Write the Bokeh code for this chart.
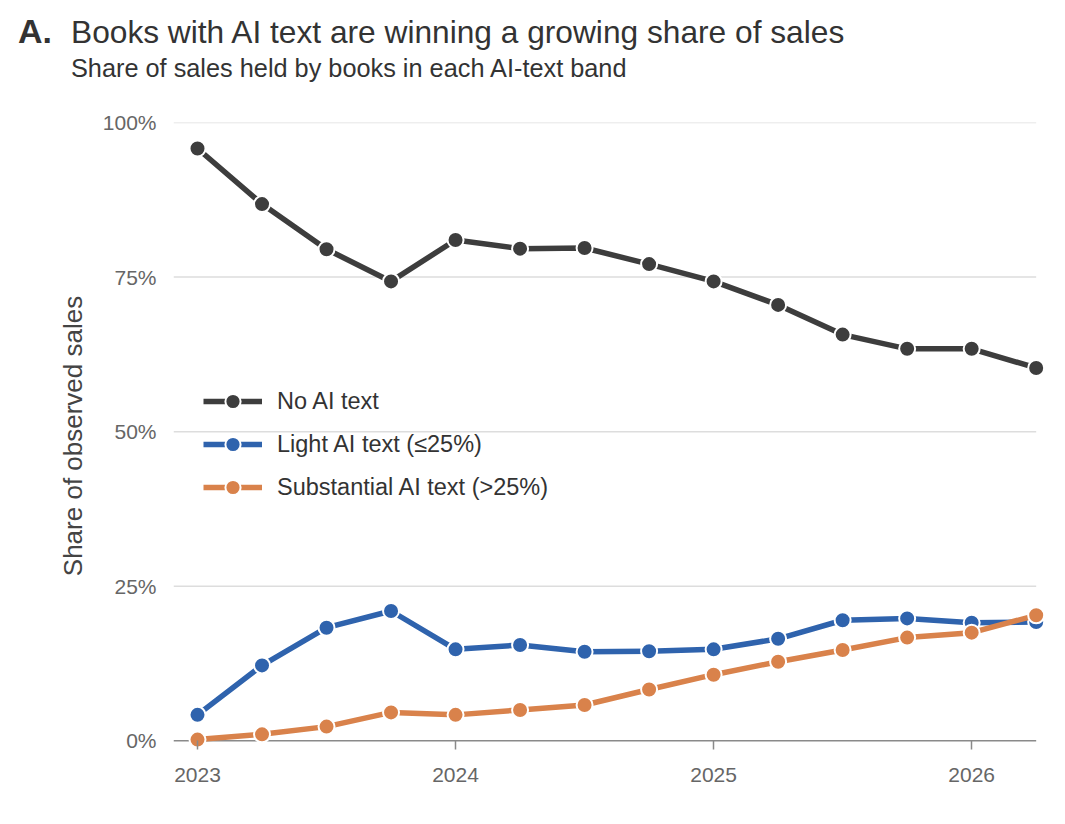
from bokeh.plotting import figure
from bokeh.models import Range1d, FixedTicker, Legend, LegendItem, Div
from bokeh.layouts import column
from bokeh.embed import file_html
from bokeh.resources import INLINE

# ---- data ----
quarters = [2023.0, 2023.25, 2023.5, 2023.75, 2024.0, 2024.25, 2024.5, 2024.75,
            2025.0, 2025.25, 2025.5, 2025.75, 2026.0, 2026.25]
no_ai = [95.8, 86.8, 79.5, 74.3, 81.0, 79.6, 79.7, 77.1, 74.3, 70.5, 65.7, 63.4, 63.4, 60.3]
light_ai = [4.2, 12.2, 18.3, 21.0, 14.8, 15.5, 14.4, 14.5, 14.8, 16.5, 19.5, 19.8, 19.1, 19.2]
substantial_ai = [0.2, 1.05, 2.3, 4.6, 4.2, 5.0, 5.8, 8.3, 10.7, 12.8, 14.7, 16.7, 17.5, 20.3]

series_names = ["No AI text", "Light AI text (\u226425%)", "Substantial AI text (>25%)"]
series_colors = ["#3d3d3d", "#2f63ad", "#d9824b"]

x_ticks = [2023, 2024, 2025, 2026]
x_tick_labels = ["2023", "2024", "2025", "2026"]
y_ticks = [0, 25, 50, 75, 100]
y_tick_labels = ["0%", "25%", "50%", "75%", "100%"]

title_tag = "A."
title_text = "Books with AI text are winning a growing share of sales"
subtitle_text = "Share of sales held by books in each AI-text band"
y_label = "Share of observed sales"

FONT = "Liberation Sans"

header = Div(
    width=1049, height=91,
    text=(
        f'<div style="position:relative;width:1049px;height:91px;font-family:\'{FONT}\';color:#333333;">'
        f'<div style="position:absolute;left:13px;top:9px;font-size:34px;font-weight:bold;line-height:1;white-space:nowrap;">{title_tag}</div>'
        f'<div style="position:absolute;left:66px;top:12px;font-size:31.7px;line-height:1;white-space:nowrap;">{title_text}</div>'
        f'<div style="position:absolute;left:66px;top:51px;font-size:25.3px;line-height:1;white-space:nowrap;">{subtitle_text}</div>'
        '</div>'
    ),
)

x_start, x_end = 2022.907, 2026.29
p = figure(width=1049, height=714, output_backend="svg", toolbar_location=None,
           x_range=Range1d(x_start, x_end), y_range=Range1d(-1.4, 100),
           min_border_left=173, min_border_right=3, min_border_top=21,
           min_border_bottom=66)
p.outline_line_color = None
p.background_fill_color = "white"
p.border_fill_color = "white"

# grid drawn only up to the last observed quarter
p.xgrid.grid_line_color = None
p.ygrid.grid_line_color = None
grid_vals = [v for v in y_ticks if v != 0]
p.segment(x0=[x_start] * len(grid_vals), x1=[quarters[-1]] * len(grid_vals),
          y0=grid_vals, y1=grid_vals, line_color="#dddddd", line_width=1.5)
# baseline at 0
p.segment(x0=[x_start], x1=[quarters[-1]], y0=[0], y1=[0],
          line_color="#8a8a8a", line_width=1.5)

# x axis
xa = p.xaxis[0]
xa.ticker = FixedTicker(ticks=x_ticks)
xa.major_label_overrides = {t: l for t, l in zip(x_ticks, x_tick_labels)}
xa.axis_line_color = None
xa.major_tick_line_color = "#8a8a8a"
xa.major_tick_line_width = 1.5
xa.major_tick_in = 9
xa.major_tick_out = 0
xa.minor_tick_line_color = None
xa.major_label_text_font = FONT
xa.major_label_text_font_size = "21px"
xa.major_label_text_color = "#666666"
xa.major_label_standoff = 18

# y axis
ya = p.yaxis[0]
ya.ticker = FixedTicker(ticks=y_ticks)
ya.major_label_overrides = {t: l for t, l in zip(y_ticks, y_tick_labels)}
ya.axis_line_color = None
ya.major_tick_line_color = None
ya.minor_tick_line_color = None
ya.major_tick_in = 0
ya.major_tick_out = 0
ya.major_label_standoff = 17
ya.major_label_text_font = FONT
ya.major_label_text_font_size = "21px"
ya.major_label_text_color = "#666666"
ya.axis_label = y_label
ya.axis_label_text_font = FONT
ya.axis_label_text_font_size = "26px"
ya.axis_label_text_font_style = "normal"
ya.axis_label_text_color = "#444444"
ya.axis_label_standoff = 12

items = []
for name, col, vals in zip(series_names, series_colors, [no_ai, light_ai, substantial_ai]):
    rl = p.line(quarters, vals, line_color=col, line_width=5.5, line_join="round")
    rs = p.scatter(quarters, vals, size=16, fill_color=col, line_color="white", line_width=2)
    items.append(LegendItem(label=name, renderers=[rl, rs]))

legend = Legend(items=items, location=(30, 243), padding=0, margin=0,
                glyph_width=59, glyph_height=38, label_height=38, spacing=5,
                label_standoff=15, label_text_font=FONT, label_text_font_size="23.5px",
                label_text_color="#333333", background_fill_alpha=0,
                border_line_color=None)
p.add_layout(legend)

layout = column(header, p, spacing=0)

open("out.html", "w").write(file_html(layout, INLINE))
